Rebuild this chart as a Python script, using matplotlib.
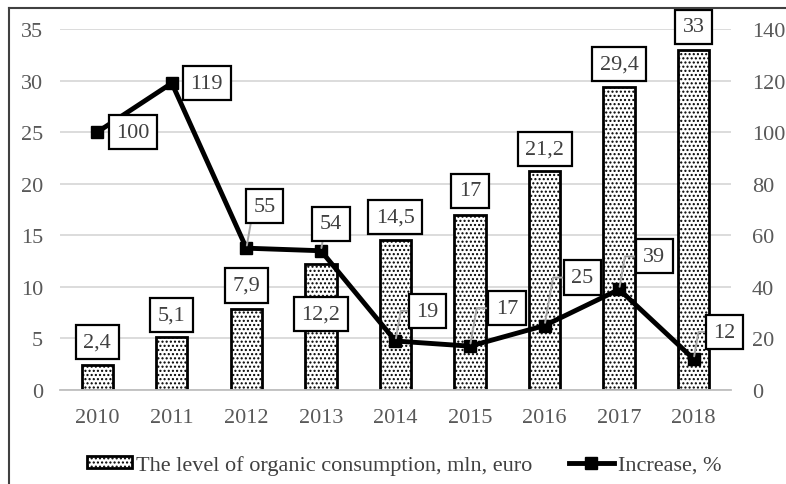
import matplotlib
matplotlib.use('Agg')

import matplotlib.pyplot as plt
import numpy as np
from matplotlib.lines import Line2D
from matplotlib.patches import Patch

plt.rcParams['font.family'] = ['Liberation Serif', 'DejaVu Serif']
plt.rcParams['hatch.linewidth'] = 1.0

years = ['2010', '2011', '2012', '2013', '2014', '2015', '2016', '2017', '2018']
consumption = [2.4, 5.1, 7.9, 12.2, 14.5, 17, 21.2, 29.4, 33]
consumption_labels = ['2,4', '5,1', '7,9', '12,2', '14,5', '17', '21,2', '29,4', '33']
increase = [100, 119, 55, 54, 19, 17, 25, 39, 12]

# label offsets (pixels) from bar top / line marker
bar_label_dy = [23, 22, 23, -50, 23, 24, 22, 23, 23]
line_label_dxy = [(36, 0), (35, 0), (18, 42), (10, 27), (32, 30),
                  (37, 38), (38, 48), (35, 33), (31, 27)]
leader = [False, False, True, True, True, True, True, True, True]

TXT = '#404040'
FS = 16

fig = plt.figure(figsize=(7.86, 4.85), dpi=100)
ax = fig.add_axes([0.0763, 0.1938, 0.8537, 0.7444])
ax2 = ax.twinx()

x = np.arange(len(years))
ax.bar(x, consumption, width=0.42, color='white', edgecolor='black',
       linewidth=2, hatch='....', zorder=2)
ax.set_ylim(0, 35)
ax.set_xlim(-0.5, len(years) - 0.5)
ax.set_yticks(np.arange(0, 36, 5))
ax.set_xticks(x)
ax.set_xticklabels(years)
ax.grid(axis='y', color='#d9d9d9', linewidth=1.3, zorder=0)
ax.set_axisbelow(True)

ax2.plot(x, increase, color='black', linewidth=3.5, marker='s', markersize=9,
         zorder=3)
ax2.set_ylim(0, 140)
ax2.set_yticks(np.arange(0, 141, 20))

for a in (ax, ax2):
    for s in a.spines.values():
        s.set_visible(False)
    a.tick_params(length=0, labelsize=FS, colors='#595959')
ax.spines['bottom'].set_visible(True)
ax.spines['bottom'].set_color('#bfbfbf')
ax.spines['bottom'].set_linewidth(1.3)
ax.tick_params(axis='x', pad=13)
ax.tick_params(axis='y', pad=12)
ax2.tick_params(axis='y', pad=15)

ax2.set_zorder(ax.get_zorder() + 1)
ax2.patch.set_visible(False)

box = dict(boxstyle='square,pad=0.34', facecolor='white', edgecolor='black', linewidth=1.6)

for i, v in enumerate(consumption):
    ax.annotate(consumption_labels[i], (x[i], v), xytext=(0, bar_label_dy[i]),
                textcoords='offset pixels', ha='center', va='center',
                fontsize=FS, color=TXT, bbox=box, zorder=5)

for i, v in enumerate(increase):
    dx, dy = line_label_dxy[i]
    kw = {}
    if leader[i]:
        kw['arrowprops'] = dict(arrowstyle='-', color='#a6a6a6', linewidth=1.4,
                                shrinkA=0, shrinkB=2,
                                connectionstyle='angle,angleA=0,angleB=80,rad=0')
    ax2.annotate(str(v), (x[i], v), xytext=(dx, dy), textcoords='offset pixels',
                 ha='center', va='center', fontsize=FS, color=TXT, bbox=box,
                 zorder=6, **kw)

handles = [Patch(facecolor='white', edgecolor='black', hatch='....', linewidth=2),
           Line2D([0], [0], color='black', linewidth=3.5, marker='s', markersize=9)]
fig.legend(handles, ['The level of organic consumption, mln, euro', 'Increase, %'],
           loc='center', bbox_to_anchor=(0.514, 0.039), ncol=2, frameon=False,
           fontsize=FS, handlelength=2.05, handleheight=0.5, handletextpad=0.15,
           columnspacing=1.65, labelcolor=TXT)

# outer frame (left and top edges only)
fig.add_artist(Line2D([0.0115, 0.0115], [0, 0.982], color='#404040', linewidth=1.5,
                      transform=fig.transFigure))
fig.add_artist(Line2D([0.0115, 1.0], [0.982, 0.982], color='#404040', linewidth=1.5,
                      transform=fig.transFigure))

fig.savefig('out.png', dpi=100)
